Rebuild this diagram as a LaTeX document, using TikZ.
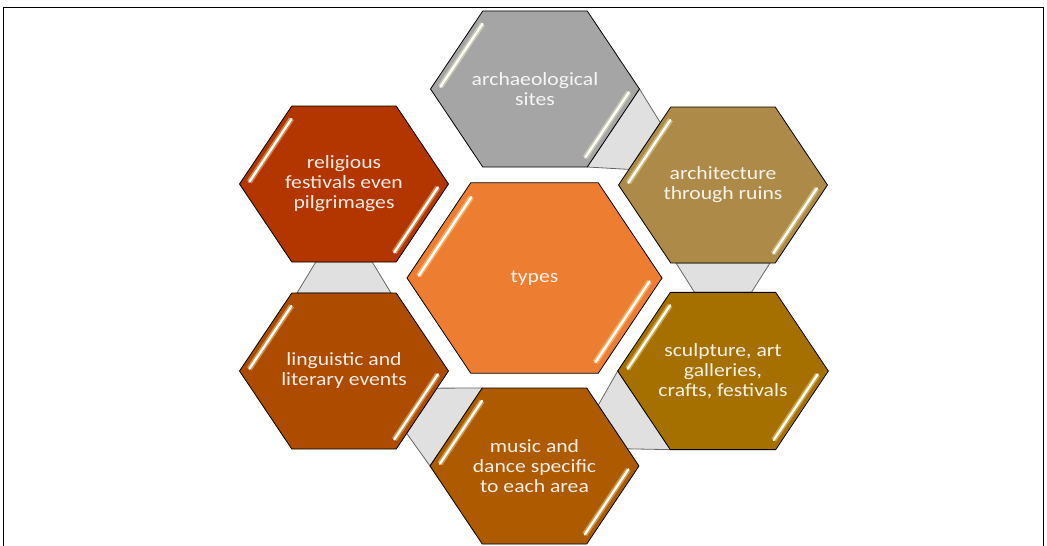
\documentclass[tikz,border=0pt]{standalone}
\usepackage{fontspec}
\setmainfont{Carlito}
\usetikzlibrary{shapes.geometric,calc,backgrounds}
\definecolor{TypesOrange}{HTML}{ED7D31}
\definecolor{SitesGrey}{HTML}{A5A5A5}
\definecolor{ArchBrown}{HTML}{AD8A47}
\definecolor{SculptGold}{HTML}{A67000}
\definecolor{MusicBrown}{HTML}{AD5A00}
\definecolor{LitBrown}{HTML}{AD4B00}
\definecolor{RelRed}{HTML}{B33500}
\definecolor{LinkGrey}{HTML}{E0E0E0}

\begin{document}
\begin{tikzpicture}[
    x=0.75pt, y=-0.75pt,
    hexa/.style={draw=black, line width=0.6pt, regular polygon, regular polygon sides=6,
        minimum size=135.1pt, inner sep=0pt, outer sep=0pt, xscale=1.16, align=center,
        text=white, text opacity=0.9, font=\fontsize{14}{15}\selectfont},
    bighexa/.style={hexa, minimum size=164.9pt},
    link/.style={draw=black!60, line width=0.6pt, fill=LinkGrey},
    gloss/.style={draw=white, line width=1.7pt, line cap=round,
        preaction={draw=yellow!25!white, line width=4.2pt, opacity=0.4}}
]
    \useasboundingbox (0,0) rectangle (1047,546);

    % Frame
    \draw[line width=1.4pt] (3.5,546) -- (3.5,7.5) -- (1043.5,7.5) -- (1043.5,546);

    % Nodes
    \node (Types) [bighexa, fill=TypesOrange] at (534.5,278) {types};
    \node (Sites) [hexa, fill=SitesGrey] at (535,89) {archaeological\\sites};
    \node (Architecture) [hexa, fill=ArchBrown] at (723,185) {architecture\\through ruins};
    \node (Sculpture) [hexa, fill=SculptGold] at (723,371) {sculpture, art\\galleries,\\crafts, festivals};
    \node (Music) [hexa, fill=MusicBrown] at (534.5,466) {music and\\dance specific\\to each area};
    \node (Literary) [hexa, fill=LitBrown] at (344,371) {linguistic and\\literary events};
    \node (Religious) [hexa, fill=RelRed] at (344,184) {religious\\festivals even\\pilgrimages};

    % Links
    \begin{scope}[on background layer]
        \draw[link] (Sites.corner 6) -- ($(Architecture.corner 3)!0.8!(Architecture.corner 2)$)
            -- ($(Architecture.corner 3)!0.2!(Architecture.corner 2)$) -- (Sites.corner 5) -- cycle;
        \draw[link] ($(Architecture.corner 4)!0.05!(Architecture.corner 5)$) -- ($(Architecture.corner 4)!0.95!(Architecture.corner 5)$)
            -- ($(Sculpture.corner 2)!0.77!(Sculpture.corner 1)$) -- ($(Sculpture.corner 2)!0.23!(Sculpture.corner 1)$) -- cycle;
        \draw[link] (Sculpture.corner 3) -- ($(Music.corner 1)!0.22!(Music.corner 6)$)
            -- ($(Music.corner 1)!0.78!(Music.corner 6)$) -- (Sculpture.corner 4) -- cycle;
        \draw[link] (Music.corner 3) -- ($(Literary.corner 6)!0.8!(Literary.corner 5)$)
            -- ($(Literary.corner 6)!0.22!(Literary.corner 5)$) -- (Music.corner 2) -- cycle;
        \draw[link] ($(Religious.corner 4)!0.23!(Religious.corner 5)$) -- ($(Religious.corner 4)!0.77!(Religious.corner 5)$)
            -- ($(Literary.corner 2)!0.95!(Literary.corner 1)$) -- ($(Literary.corner 2)!0.05!(Literary.corner 1)$) -- cycle;
    \end{scope}

    % Gloss
    \foreach \n in {Types,Sites,Architecture,Sculpture,Music,Literary,Religious} {
        \draw[gloss, shorten <=6pt, shorten >=2pt] ($(\n.center)!0.92!(\n.corner 2)$) -- ($(\n.center)!0.92!(\n.corner 3)$);
        \draw[gloss, shorten <=3pt, shorten >=3pt] ($(\n.center)!0.92!(\n.corner 6)$) -- ($(\n.center)!0.92!(\n.corner 5)$);
    }
\end{tikzpicture}
\end{document}
